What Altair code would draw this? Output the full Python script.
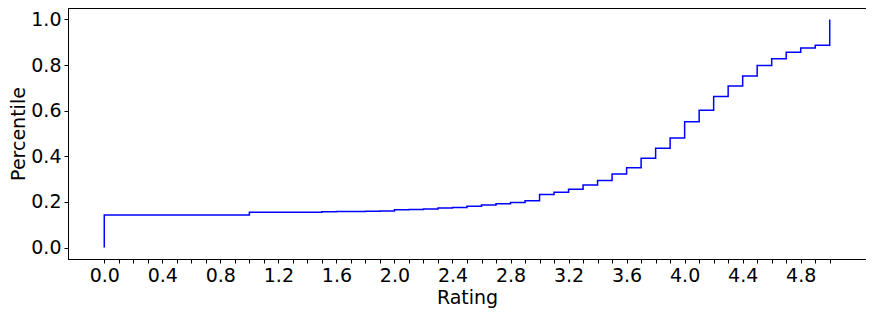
import altair as alt
import pandas as pd

ratings = [0.0, 0.0, 1.0, 1.5, 1.6, 1.7, 1.8, 1.9, 2.0, 2.1, 2.2, 2.3, 2.4, 2.5,
           2.6, 2.7, 2.8, 2.9, 3.0, 3.1, 3.2, 3.3, 3.4, 3.5, 3.6, 3.7, 3.8, 3.9,
           4.0, 4.1, 4.2, 4.3, 4.4, 4.5, 4.6, 4.7, 4.8, 4.9, 5.0]
percentiles = [0.0, 0.143, 0.155, 0.157, 0.158, 0.158, 0.159, 0.160, 0.166, 0.167,
               0.169, 0.174, 0.176, 0.181, 0.187, 0.192, 0.198, 0.205, 0.233, 0.243,
               0.256, 0.274, 0.294, 0.322, 0.350, 0.392, 0.435, 0.480, 0.552, 0.602,
               0.662, 0.708, 0.752, 0.798, 0.828, 0.856, 0.875, 0.887, 1.0]
x_ticks = [round(i * 0.1, 1) for i in range(51)]
y_ticks = [0.0, 0.2, 0.4, 0.6, 0.8, 1.0]

df = pd.DataFrame({"rating": ratings, "pct": percentiles, "idx": list(range(len(ratings)))})

FONT = "DejaVu Sans"
FS = 19

chart = alt.Chart(df).mark_line(
    interpolate="step-after", color="#0000ff", strokeWidth=1.5
).encode(
    x=alt.X("rating:Q", scale=alt.Scale(domain=[-0.25, 5.25], nice=False, zero=False),
            axis=alt.Axis(title="Rating", values=x_ticks, format=".1f",
                          labelExpr="(round(datum.value*10) % 4 == 0 && datum.value < 4.95) ? datum.label : ''",
                          labelFlush=False, labelOverlap=False)),
    y=alt.Y("pct:Q", scale=alt.Scale(domain=[-0.05, 1.05], nice=False, zero=False),
            axis=alt.Axis(title="Percentile", values=y_ticks, format=".1f")),
    order="idx:Q",
).properties(
    width=798, height=251,
    autosize=alt.AutoSizeParams(type="none"),
    padding={"left": 60, "top": 0, "right": 0, "bottom": 55},
).configure_view(
    stroke="black", strokeWidth=1
).configure_axis(
    grid=False, domain=True, domainColor="black", domainWidth=1,
    tickColor="black", tickSize=4, tickWidth=1,
    labelFont=FONT, labelFontSize=FS, labelColor="black", labelPadding=3,
    titleFont=FONT, titleFontSize=FS, titleColor="black", titleFontWeight="normal",
).configure_axisX(
    titlePadding=3
).configure_axisY(
    titlePadding=2
)

chart.save("out.html", embed_options={"renderer": "svg", "actions": False})
